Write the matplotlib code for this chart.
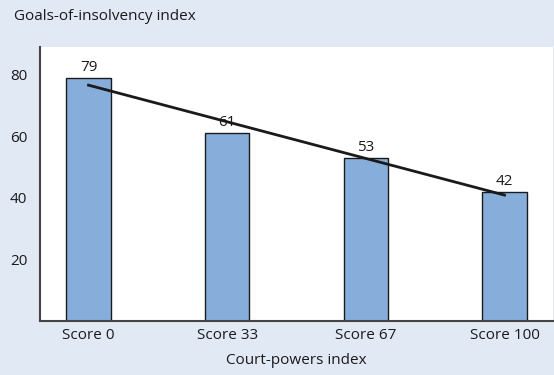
import numpy as np
import matplotlib.pyplot as plt

categories = ['Score 0', 'Score 33', 'Score 67', 'Score 100']
values = [79, 61, 53, 42]
yticks = [20, 40, 60, 80]

bg = '#e1e9f5'
bar_color = '#87aedb'
ink = '#1a1a1a'
fs = 11

plt.rcParams['font.family'] = ['Open Sans', 'DejaVu Sans']

fig = plt.figure(figsize=(5.54, 3.75), dpi=100, facecolor=bg)
ax = fig.add_axes([0.0722, 0.144, 0.926, 0.7307])
ax.set_facecolor('white')

x = np.arange(len(categories))
ax.bar(x, values, width=0.32, color=bar_color, edgecolor=ink, linewidth=1.0, zorder=2)

# linear trend through the bar values
slope, intercept = np.polyfit(x, values, 1)
ax.plot(x[[0, -1]], intercept + slope * x[[0, -1]], color=ink, linewidth=2, zorder=3)

for xi, v in zip(x, values):
    ax.text(xi, v + 0.9, str(v), ha='center', va='bottom', fontsize=fs, color=ink, zorder=4)

ax.set_xlim(-0.35, 3.35)
ax.set_ylim(0, 89)
ax.set_xticks(x)
ax.set_xticklabels(categories)
ax.set_yticks(yticks)
ax.tick_params(length=0, labelsize=fs, colors=ink, pad=5)
ax.tick_params(axis='y', pad=9)

for side in ['top', 'right']:
    ax.spines[side].set_visible(False)
for side in ['left', 'bottom']:
    ax.spines[side].set_color('#444444')
    ax.spines[side].set_linewidth(1.5)

ax.set_xlabel('Court-powers index', fontsize=fs, color=ink, labelpad=7)
fig.text(14 / 554, 1 - 16 / 375, 'Goals-of-insolvency index', fontsize=fs,
         color=ink, va='center', ha='left')

fig.savefig('out.png', dpi=100, facecolor=bg)
